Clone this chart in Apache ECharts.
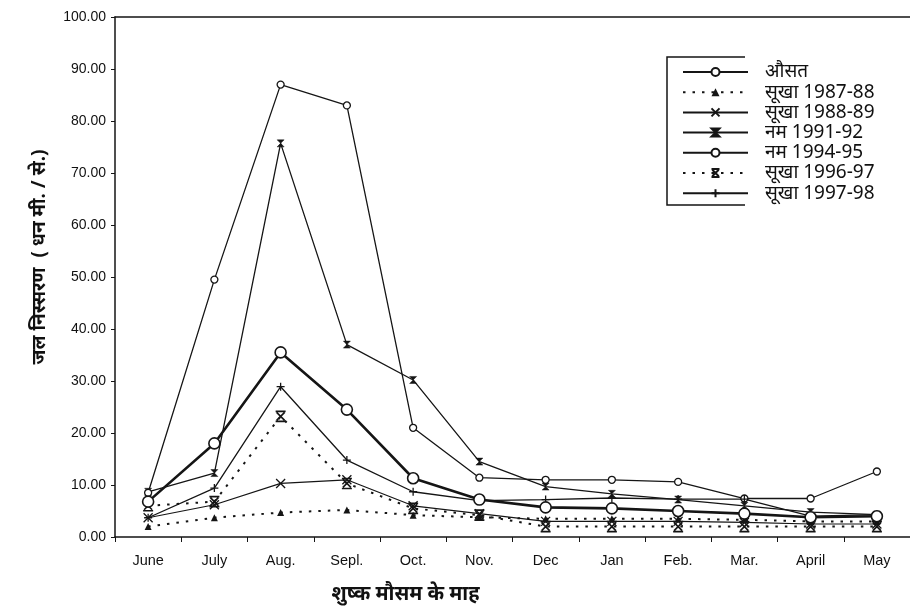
<!DOCTYPE html>
<html>
<head>
<meta charset="utf-8">
<script src="https://cdn.jsdelivr.net/npm/echarts@6/dist/echarts.min.js"></script>
<style>
html,body{margin:0;padding:0;background:#fff;}
#c{width:910px;height:611px;}
</style>
</head>
<body>
<div id="c"></div>
<script>
var months = ["June","July","Aug.","Sepl.","Oct.","Nov.","Dec","Jan","Feb.","Mar.","April","May"];
var yTicks = [0,10,20,30,40,50,60,70,80,90,100];
var seriesNames = ["औसत","सूखा 1987-88","सूखा 1988-89","नम 1991-92","नम 1994-95","सूखा 1996-97","सूखा 1997-98"];
var avgVals   = [6.8, 18.0, 35.5, 24.5, 11.3, 7.2, 5.7, 5.5, 5.0, 4.5, 3.8, 4.0];
var dry8788   = [2.0, 3.7, 4.7, 5.2, 4.2, 3.8, 3.5, 3.5, 3.5, 3.3, 3.0, 3.0];
var dry8889   = [3.7, 6.2, 10.3, 11.0, 6.0, 4.5, 3.0, 3.0, 3.0, 2.8, 2.5, 2.5];
var wet9192   = [8.7, 12.3, 75.7, 37.0, 30.2, 14.5, 9.7, 8.3, 7.2, 6.0, 4.8, 4.3];
var wet9495   = [8.5, 49.5, 87.0, 83.0, 21.0, 11.4, 11.0, 11.0, 10.6, 7.4, 7.4, 12.6];
var dry9697   = [6.0, 6.8, 23.2, 10.3, 5.5, 4.2, 2.0, 2.0, 2.0, 2.0, 2.0, 2.0];
var dry9798   = [3.7, 9.4, 28.9, 14.8, 8.7, 7.0, 7.2, 7.5, 7.3, 7.3, 4.0, 4.3];
var xAxisName = "शुष्क मौसम के माह";
var yAxisName = "जल निस्सरण  ( धन मी. / से.)";

var ink = '#151515';
var pathX = 'path://M0,0L10,10M10,0L0,10';
var pathBow = 'path://M0,0L10,0L0,10L10,10Z';
var pathX2 = 'path://M0,0L10,0M0,10L10,10M1,1L9,9M9,1L1,9';
var pathPlus = 'path://M5,0L5,10M0,5L10,5';

function mk(name, data, o) {
  return {
    name: name, type: 'line', data: data,
    symbol: o.symbol, symbolSize: o.size, showAllSymbol: true,
    lineStyle: {color: ink, width: o.width, type: o.dash || 'solid'},
    itemStyle: {color: o.fill, borderColor: ink, borderWidth: o.bw},
    z: o.z || 2, animation: false
  };
}

var chart = echarts.init(document.getElementById('c'));
chart.setOption({
  backgroundColor: '#fff',
  animation: false,
  grid: {left: 115, top: 17, width: 798, height: 520, containLabel: false},
  legend: {
    orient: 'vertical', left: 677, top: 57,
    itemWidth: 65, itemHeight: 10, itemGap: 0.2,
    textStyle: {color: '#111', fontSize: 19, lineHeight: 20, fontFamily: 'Noto Sans, DejaVu Sans, sans-serif', padding: [0,0,0,12]},
    data: seriesNames
  },
  graphic: [
    {type: 'polyline', shape: {points: [[745,57],[667,57],[667,205],[745,205]]}, style: {stroke: ink, lineWidth: 1.5, fill: null}}
  ],
  xAxis: [{
    type: 'category', data: months, boundaryGap: true,
    axisLine: {lineStyle: {color: ink, width: 1.5}},
    axisTick: {show: true, length: 5, lineStyle: {color: ink}},
    axisLabel: {color: '#111', fontSize: 14.5, fontFamily: 'Liberation Sans, Arial, sans-serif', margin: 16},
    name: xAxisName, nameLocation: 'middle', nameGap: 47,
    nameTextStyle: {color: '#111', fontSize: 20, fontWeight: 'bold', fontFamily: 'Noto Sans, DejaVu Sans, sans-serif', padding: [0, 0, 0, -214]}
  }, {
    type: 'category', data: months, position: 'top', boundaryGap: true,
    axisLine: {lineStyle: {color: ink, width: 1.5}},
    axisTick: {show: false}, axisLabel: {show: false}
  }],
  yAxis: {
    type: 'value', min: 0, max: 100, interval: 10,
    axisLine: {show: true, lineStyle: {color: ink, width: 1.5}},
    axisTick: {show: true, length: 4, lineStyle: {color: ink}},
    splitLine: {show: false},
    axisLabel: {color: '#111', fontSize: 14, fontFamily: 'Liberation Sans, Arial, sans-serif', margin: 9,
      formatter: function (v) { return v.toFixed(2); }},
    name: yAxisName, nameLocation: 'middle', nameGap: 66, nameRotate: 90,
    nameTextStyle: {color: '#111', fontSize: 19, fontWeight: 'bold', fontFamily: 'Noto Sans, DejaVu Sans, sans-serif', padding: [0, 0, 0, 40]}
  },
  series: [
    mk(seriesNames[0], avgVals, {symbol: 'circle', size: 11, width: 2.6, fill: '#fff', bw: 1.6, z: 5}),
    mk(seriesNames[1], dry8788, {symbol: 'triangle', size: 7, width: 2, dash: [2.5, 7], fill: ink, bw: 0}),
    mk(seriesNames[2], dry8889, {symbol: pathX, size: 9, width: 1.2, fill: 'none', bw: 1.3}),
    mk(seriesNames[3], wet9192, {symbol: pathBow, size: 7, width: 1.3, fill: ink, bw: 0.5}),
    mk(seriesNames[4], wet9495, {symbol: 'circle', size: 7, width: 1.3, fill: '#fff', bw: 1.3}),
    mk(seriesNames[5], dry9697, {symbol: pathX2, size: 10, width: 2, dash: [2.5, 7], fill: 'none', bw: 1.6}),
    mk(seriesNames[6], dry9798, {symbol: pathPlus, size: 8, width: 1.3, fill: 'none', bw: 1.3})
  ]
});
</script>
</body>
</html>
